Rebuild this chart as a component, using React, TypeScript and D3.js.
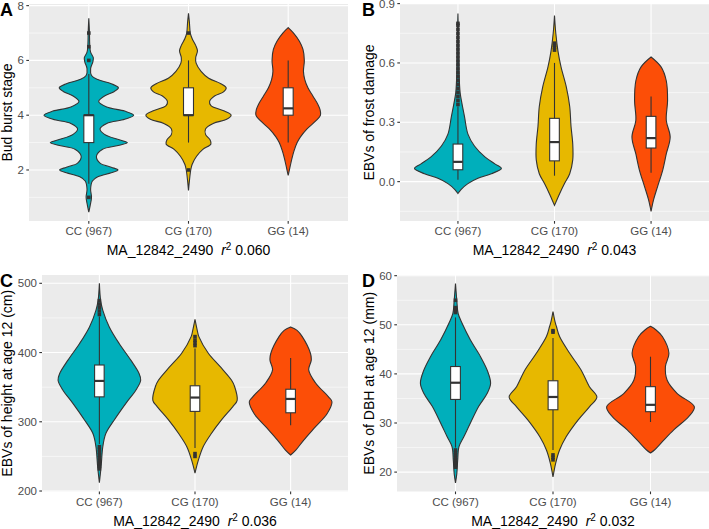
import React, { useRef, useEffect } from "react";
import * as d3 from "d3";

// genotype groups + fill colours
const groups = ["CC (967)", "CG (170)", "GG (14)"];
const fills = ["#00AFBB", "#E7B800", "#FC4E07"];

// violin outlines: [value, relative half width]
const budCC = [[0.46,0],[0.7,.03],[1.0,.06],[1.3,.04],[1.6,.08],[1.75,.2],[1.9,.5],[2.0,.65],[2.1,.5],[2.25,.25],[2.5,.17],[2.75,.3],[2.9,.68],[3.0,.86],[3.1,.68],[3.3,.35],[3.5,.25],[3.7,.4],[3.85,.8],[4.0,1.0],[4.15,.8],[4.3,.4],[4.5,.22],[4.7,.35],[4.85,.55],[5.0,.66],[5.15,.5],[5.3,.2],[5.45,.06],[5.7,.04],[5.95,.09],[6.1,.1],[6.3,.04],[6.6,.02],[7.0,.015],[7.54,0]];
const budCG = [[1.25,0],[1.6,.02],[2.0,.05],[2.2,.08],[2.5,.18],[2.75,.32],[2.95,.5],[3.1,.48],[3.3,.38],[3.5,.38],[3.7,.55],[3.85,.85],[4.0,.95],[4.15,.8],[4.35,.5],[4.5,.47],[4.7,.58],[4.85,.78],[5.0,.84],[5.15,.72],[5.35,.45],[5.6,.28],[5.9,.17],[6.1,.16],[6.35,.2],[6.55,.16],[6.8,.08],[7.0,.04],[7.4,.02],[7.72,0]];
const budGG = [[1.8,0],[2.1,.04],[2.4,.08],[2.7,.13],[3.0,.2],[3.2,.27],[3.5,.42],[3.8,.62],[4.0,.72],[4.2,.71],[4.4,.66],[4.7,.55],[5.0,.44],[5.3,.37],[5.6,.34],[6.0,.36],[6.4,.33],[6.7,.25],[7.0,.12],[7.2,0]];

const frostCC = [[-0.06,0],[-0.04,.07],[-0.01,.23],[0.017,.46],[0.04,.77],[0.067,1.0],[0.09,.85],[0.125,.62],[0.18,.38],[0.24,.23],[0.33,.15],[0.41,.08],[0.45,.05],[0.55,.025],[0.7,.015],[0.85,0]];
const frostCG = [[-0.12,0],[-0.06,.12],[-0.01,.23],[0.04,.35],[0.11,.42],[0.19,.42],[0.28,.38],[0.38,.35],[0.48,.27],[0.58,.15],[0.66,.08],[0.75,.03],[0.84,0]];
const frostGG = [[-0.15,0],[-0.09,.06],[-0.025,.15],[0.06,.27],[0.14,.35],[0.226,.44],[0.31,.35],[0.41,.38],[0.51,.35],[0.58,.23],[0.63,0]];

const heightCC = [[212,0],[235,.04],[264,.08],[283,.15],[303,.35],[327,.62],[346,.85],[360,.96],[370,.92],[389,.73],[413,.46],[437,.23],[461,.08],[475,.03],[500,0]];
const heightCG = [[226,0],[245,.08],[264,.19],[283,.38],[303,.62],[322,.88],[331,.98],[351,.92],[360,.85],[380,.58],[399,.31],[423,.09],[430,.06],[448,0]];
const heightGG = [[252,0],[259,.12],[274,.31],[293,.58],[312,.85],[329,.96],[336,.88],[356,.58],[375,.42],[389,.48],[399,.46],[423,.27],[432,.15],[437,0]];

const dbhCC = [[17.8,0],[19.7,.03],[22.4,.05],[25.2,.08],[27.2,.19],[30,.34],[33.4,.53],[36,.72],[38.1,.8],[40.8,.72],[43.5,.57],[46.9,.34],[50.3,.15],[52.3,.06],[55,.03],[58.4,0]];
const dbhCG = [[19,0],[21.8,.06],[24.5,.15],[27.2,.3],[30.6,.57],[33.3,.83],[35.3,1.0],[37.4,.83],[40.8,.64],[44.2,.38],[47.6,.15],[49.6,.08],[50.5,.05],[52.7,0]];
const dbhGG = [[23.9,0],[24.5,.09],[26.2,.27],[28.6,.53],[31.3,.87],[33.3,1.0],[36,.61],[38.7,.38],[41.5,.34],[44.2,.42],[47.6,.27],[49,.12],[49.7,0]];

// box stats: [lower whisker, q1, median, q3, upper whisker]
const budBox = [[1.5,3,4,4,5.5],[3,4,4,5,6],[3,4,4.25,5,6]];
const frostBox = [[0.01,0.06,0.1,0.19,0.38],[0.03,0.105,0.2,0.32,0.6],[0.045,0.17,0.22,0.33,0.43]];
const heightBox = [[268,336,359,382,452],[262,315,335,352,406],[295,313,333,347,392]];
const dbhBox = [[25,34.8,38.2,41.5,51.5],[24.5,32.7,35.3,38.6,47.3],[30.2,32.3,33.7,37.4,43.5]];

// outliers
const budOut = [[1,6,6.5,7],[2,7],[]];
const frostOut = [[0.39,0.41,0.43,0.45,0.47,0.49,0.51,0.53,0.55,0.57,0.59,0.61,0.63,0.65,0.67,0.69,0.71,0.73,0.75,0.77,0.79,0.8],[0.665,0.68,0.69,0.7],[]];
const heightOut = [[455,460,465,470,475,232,236,240,244,248,252,256,260,264],[410,414,418,423,250,254],[]];
const dbhOut = [[52.5,53,53.5,55,21,21.5,22,22.5,23,23.5,24,24.5],[48.5,48.8,22.5,23,23.5],[]];

// axis ticks
const budTicks = [2,4,6,8], budMinor = [1,3,5,7];
const frostTicks = [0,0.3,0.6,0.9], frostMinor = [-0.15,0.15,0.45,0.75];
const heightTicks = [200,300,400,500], heightMinor = [250,350,450];
const dbhTicks = [20,30,40,50,60], dbhMinor = [25,35,45,55];

const panels = [
  { letter: "A", ytitle: "Bud burst stage", r2: "0.060", violins: [budCC, budCG, budGG], box: budBox, out: budOut,
    ticks: budTicks, minor: budMinor, fmt: d3.format("d"), domain: [0.137, 8.06],
    x0: 29, x1: 348, y0: 4, y1: 221, titleX: 12, letterX: 0 },
  { letter: "B", ytitle: "EBVs of frost damage", r2: "0.043", violins: [frostCC, frostCG, frostGG], box: frostBox, out: frostOut,
    ticks: frostTicks, minor: frostMinor, fmt: d3.format(".1f"), domain: [-0.199, 0.898],
    x0: 400, x1: 709, y0: 4, y1: 221, titleX: 374, letterX: 362 },
  { letter: "C", ytitle: "EBVs of height at age 12 (cm)", r2: "0.036", violins: [heightCC, heightCG, heightGG], box: heightBox, out: heightOut,
    ticks: heightTicks, minor: heightMinor, fmt: d3.format("d"), domain: [199.3, 512],
    x0: 42, x1: 348, y0: 275, y1: 491.5, titleX: 12, letterX: 0 },
  { letter: "D", ytitle: "EBVs of DBH at age 12 (mm)", r2: "0.032", violins: [dbhCC, dbhCG, dbhGG], box: dbhBox, out: dbhOut,
    ticks: dbhTicks, minor: dbhMinor, fmt: d3.format("d"), domain: [16.05, 60.14],
    x0: 397, x1: 709, y0: 275, y1: 491.5, titleX: 374, letterX: 362 },
];

const font = "'Liberation Sans', Arial, Helvetica, sans-serif";
const ink = "#333333";

const App = () => {
  const ref = useRef(null);

  useEffect(() => {
    const svg = d3.select(ref.current);
    svg.selectAll("*").remove();

    panels.forEach((p) => {
      const g = svg.append("g");
      const x = d3.scalePoint().domain(groups).range([p.x0, p.x1]).padding(0.6);
      const y = d3.scaleLinear().domain(p.domain).range([p.y1, p.y0]);
      const step = x.step();

      // panel background
      g.append("rect")
        .attr("x", p.x0).attr("y", p.y0)
        .attr("width", p.x1 - p.x0).attr("height", p.y1 - p.y0)
        .attr("fill", "#EBEBEB");

      // grid
      g.selectAll(".minor").data(p.minor).join("line")
        .attr("x1", p.x0).attr("x2", p.x1)
        .attr("y1", (d) => y(d)).attr("y2", (d) => y(d))
        .attr("stroke", "white").attr("stroke-width", 0.55);
      g.selectAll(".major").data(p.ticks).join("line")
        .attr("x1", p.x0).attr("x2", p.x1)
        .attr("y1", (d) => y(d)).attr("y2", (d) => y(d))
        .attr("stroke", "white").attr("stroke-width", 1.1);
      g.selectAll(".vgrid").data(groups).join("line")
        .attr("x1", (d) => x(d)).attr("x2", (d) => x(d))
        .attr("y1", p.y0).attr("y2", p.y1)
        .attr("stroke", "white").attr("stroke-width", 1.1);

      // violins
      groups.forEach((grp, i) => {
        const cx = x(grp);
        const half = 0.45 * step;
        const area = d3.area()
          .curve(d3.curveCatmullRom.alpha(0.5))
          .y((d) => y(d[0]))
          .x0((d) => cx - d[1] * half)
          .x1((d) => cx + d[1] * half);
        g.append("path")
          .attr("d", area(p.violins[i]))
          .attr("fill", fills[i])
          .attr("stroke", ink)
          .attr("stroke-width", 1.1);
      });

      // boxplots
      groups.forEach((grp, i) => {
        const cx = x(grp);
        const bw = 0.05 * step;
        const [lo, q1, med, q3, hi] = p.box[i];
        g.append("line")
          .attr("x1", cx).attr("x2", cx)
          .attr("y1", y(lo)).attr("y2", y(q1))
          .attr("stroke", ink).attr("stroke-width", 1.1);
        g.append("line")
          .attr("x1", cx).attr("x2", cx)
          .attr("y1", y(q3)).attr("y2", y(hi))
          .attr("stroke", ink).attr("stroke-width", 1.1);
        g.append("rect")
          .attr("x", cx - bw).attr("y", y(q3))
          .attr("width", bw * 2).attr("height", y(q1) - y(q3))
          .attr("fill", "white").attr("stroke", ink).attr("stroke-width", 1.1);
        g.append("line")
          .attr("x1", cx - bw).attr("x2", cx + bw)
          .attr("y1", y(med)).attr("y2", y(med))
          .attr("stroke", ink).attr("stroke-width", 2.2);
        g.selectAll(null).data(p.out[i]).join("rect")
          .attr("x", cx - 1.8).attr("y", (d) => y(d) - 1.8)
          .attr("width", 3.6).attr("height", 3.6)
          .attr("fill", ink);
      });

      // y axis
      g.selectAll(".yt").data(p.ticks).join("line")
        .attr("x1", p.x0 - 2.7).attr("x2", p.x0)
        .attr("y1", (d) => y(d)).attr("y2", (d) => y(d))
        .attr("stroke", ink).attr("stroke-width", 1.1);
      g.selectAll(".yl").data(p.ticks).join("text")
        .attr("x", p.x0 - 5).attr("y", (d) => y(d))
        .attr("dy", "0.35em")
        .attr("text-anchor", "end")
        .attr("font-size", 11.5).attr("fill", "#4D4D4D")
        .attr("font-family", font)
        .text((d) => p.fmt(d));

      // x axis
      g.selectAll(".xt").data(groups).join("line")
        .attr("x1", (d) => x(d)).attr("x2", (d) => x(d))
        .attr("y1", p.y1).attr("y2", p.y1 + 2.7)
        .attr("stroke", ink).attr("stroke-width", 1.1);
      g.selectAll(".xl").data(groups).join("text")
        .attr("x", (d) => x(d)).attr("y", p.y1 + 14)
        .attr("text-anchor", "middle")
        .attr("font-size", 11.5).attr("fill", "#4D4D4D")
        .attr("font-family", font)
        .text((d) => d);

      // x title with italic r and superscript
      const xt = g.append("text")
        .attr("x", (p.x0 + p.x1) / 2).attr("y", p.y1 + 34)
        .attr("text-anchor", "middle")
        .attr("font-size", 14).attr("fill", "black")
        .attr("font-family", font)
        .style("white-space", "pre");
      xt.append("tspan").text("MA_12842_2490  ");
      xt.append("tspan").attr("font-style", "italic").text("r");
      xt.append("tspan").attr("font-size", 10).attr("dy", -5).text("2");
      xt.append("tspan").attr("dy", 5).text(" " + p.r2);

      // y title
      g.append("text")
        .attr("transform", `translate(${p.titleX},${(p.y0 + p.y1) / 2}) rotate(-90)`)
        .attr("text-anchor", "middle")
        .attr("font-size", 14).attr("fill", "black")
        .attr("font-family", font)
        .text(p.ytitle);

      // panel letter
      g.append("text")
        .attr("x", p.letterX).attr("y", p.y0 + 11.5)
        .attr("font-size", 18).attr("font-weight", "bold")
        .attr("font-family", font)
        .text(p.letter);
    });
  }, []);

  return (
    <svg ref={ref} width={709} height={529}
      style={{ position: "absolute", left: 0, top: 0, background: "white" }} />
  );
};

export default App;
